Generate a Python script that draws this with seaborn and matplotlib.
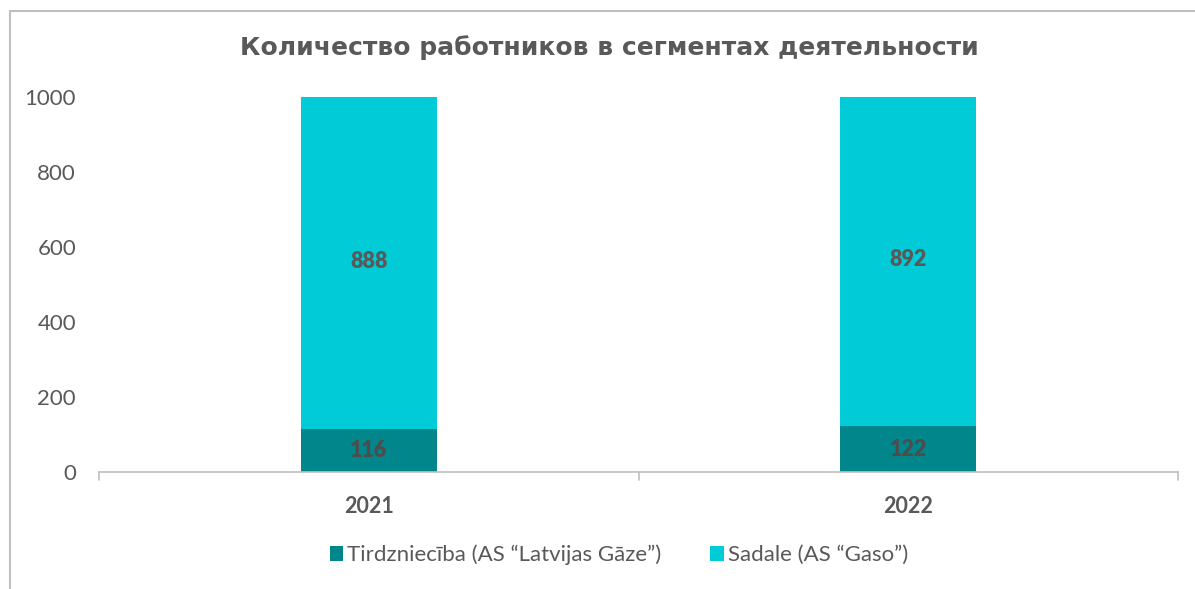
import matplotlib.pyplot as plt
import pandas as pd
import seaborn as sns
from matplotlib.lines import Line2D
from matplotlib.patches import Patch

# Données
years = ["2021", "2022"]
trade = [116, 122]
distribution = [888, 892]
series_names = ["Tirdzniecība (AS \u201cLatvijas Gāze\u201d)", "Sadale (AS \u201cGaso\u201d)"]
colors = ["#00868B", "#00CBD6"]
title = "Количество работников в сегментах деятельности"

df = pd.DataFrame({"year": years, "trade": trade, "distribution": distribution})

sns.set_theme(style="white")
plt.rcParams["font.family"] = ["Lato", "DejaVu Sans"]

fig = plt.figure(figsize=(11.95, 5.89), dpi=100)
ax = fig.add_axes([99 / 1195, 1 - 472 / 589, 1079 / 1195, 375 / 589])

sns.barplot(data=df, x="year", y="trade", color=colors[0], width=0.252,
            saturation=1, ax=ax, linewidth=0)
sns.barplot(data=df, x="year", y="distribution", bottom=df["trade"], color=colors[1],
            width=0.252, saturation=1, ax=ax, linewidth=0)

# Étiquettes de valeurs
for i, (a, b) in enumerate(zip(trade, distribution)):
    ax.text(i, a / 2, str(a), ha="center", va="center", fontsize=15.5,
            fontweight="heavy", color="#4D4D4D")
    ax.text(i, a + b / 2, str(b), ha="center", va="center", fontsize=15.5,
            fontweight="heavy", color="#595959")

ax.set_xlim(-0.5, 1.5)
ax.set_ylim(0, 1000)
ax.set_yticks([0, 200, 400, 600, 800, 1000])
ax.set_xlabel("")
ax.set_ylabel("")
for s in ["top", "right", "left"]:
    ax.spines[s].set_visible(False)
ax.spines["bottom"].set_color("#BFBFBF")
ax.spines["bottom"].set_linewidth(1.2)
ax.tick_params(axis="y", length=0, labelsize=16, labelcolor="#595959", pad=16.5)
ax.tick_params(axis="x", length=0, labelsize=15.5, labelcolor="#595959", pad=17)
for lbl in ax.get_xticklabels():
    lbl.set_fontweight("bold")

# Graduations entre catégories
for xb in [-0.5, 0.5, 1.5]:
    ax.plot([xb, xb], [0, -0.02], transform=ax.get_xaxis_transform(),
            color="#BFBFBF", lw=1.2, clip_on=False)

fig.text(609 / 1195, 1 - 48 / 589, title, ha="center", va="center",
         fontsize=18, fontweight="bold", color="#595959", family=["DejaVu Sans"])

handles = [Patch(facecolor=c, edgecolor="none") for c in colors]
fig.legend(handles, series_names, loc="center", bbox_to_anchor=(619 / 1195, 1 - 555 / 589),
           ncol=2, frameon=False, fontsize=16, labelcolor="#595959",
           handlelength=0.6, handleheight=0.6, handletextpad=0.2, columnspacing=2.2)

# Cadre du graphique
fig.add_artist(Line2D([10 / 1195, 10 / 1195], [0, 1 - 11 / 589], color="#BFBFBF", lw=1.5))
fig.add_artist(Line2D([10 / 1195, 1], [1 - 11 / 589, 1 - 11 / 589], color="#BFBFBF", lw=1.5))

fig.savefig("out.png", dpi=100)
